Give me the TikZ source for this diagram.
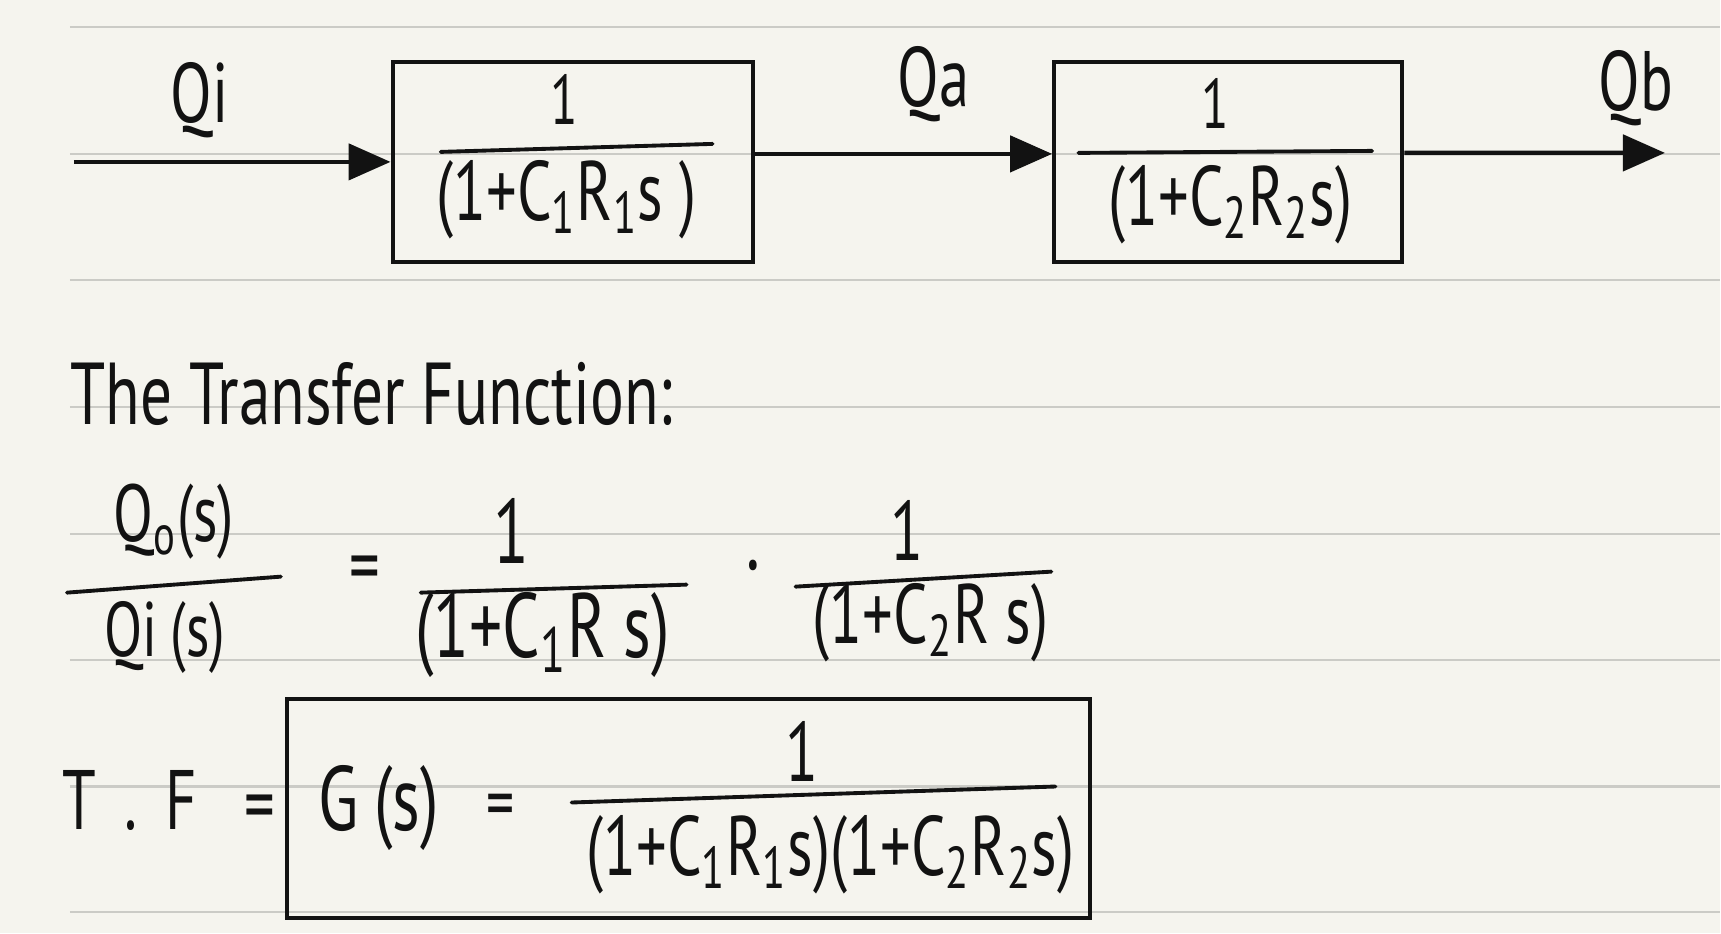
\documentclass[tikz,border=0pt]{standalone}
\usepackage{fontspec}
\setmainfont[FakeStretch=0.72]{PT Sans}
\usetikzlibrary{positioning, arrows.meta}
\definecolor{paper}{HTML}{F5F4EE}
\definecolor{ruling}{HTML}{CBCBC6}
\definecolor{ink}{HTML}{121212}

\tikzset{
  hand/.style={inner sep=0pt, text=ink, font=\fontsize{#1}{#1}\selectfont},
  block/.style={draw=ink, line width=1.2pt, inner sep=0pt},
  flow/.style={draw=ink, line width=1.3pt, -{Triangle[length=4.2mm, width=3.6mm]}},
  bar/.style={draw=ink, line width=1.1pt, line cap=round},
}

\begin{document}
\begin{tikzpicture}[x=0.01cm, y=-0.01cm]
  % notebook paper
  \fill[paper] (0,0) rectangle (1721,934);
  \foreach \y in {27,154,280,407,534,660,787,913}
    \draw[ruling, line width=0.6pt] (70,\y) -- (1721,\y);

  % block diagram
  \node[block, minimum width=3.6cm, minimum height=2cm] (blockone) at (573,162) {};
  \node[block, minimum width=3.48cm, minimum height=2cm] (blocktwo) at (1229,162) {};
  \coordinate (in) at (74,162);
  \coordinate (out) at (1666,153);
  \draw[flow] (in) -- (blockone.west);
  \draw[flow] ([yshift=0.08cm]blockone.east) -- ([yshift=0.08cm]blocktwo.west);
  \draw[flow] ([yshift=0.09cm]blocktwo.east) -- (out);

  \node[hand=24] (qi) at (200,100) {Qi};
  \node[hand=24] (qa) at (934,84) {Qa};
  \node[hand=24] (qb) at (1637,88) {Qb};

  \node[hand=20] (numone) at (565,100) {1};
  \draw[bar] (441,152) -- (713,144);
  \node[hand=24] (denone) at (567,200) {(1+C\textsubscript{1}R\textsubscript{1}s )};
  \node[hand=20] (numtwo) at (1216,104) {1};
  \draw[bar] (1079,153) -- (1373,151);
  \node[hand=24] (dentwo) at (1231,205) {(1+C\textsubscript{2}R\textsubscript{2}s)};

  % transfer function
  \node[hand=25, anchor=base west] (title) at (70,425) {The Transfer Function:};

  \node[hand=23] (qo) at (174,522) {Q\textsubscript{o}(s)};
  \draw[bar] (67,593) -- (281,577);
  \node[hand=22] (qis) at (165,638) {Qi\,(s)};
  \node[hand=24] (eqone) at (365,576) {=};
  \node[hand=26] (fnumone) at (512,531) {1};
  \draw[bar] (421,593) -- (687,585);
  \node[hand=26] (fdenone) at (543,635) {(1+C\textsubscript{1}R s)};
  \node[hand=26] (dot) at (754,577) {\textperiodcentered};
  \node[hand=24] (fnumtwo) at (908,531) {1};
  \draw[bar] (796,587) -- (1052,572);
  \node[hand=24] (fdentwo) at (931,623) {(1+C\textsubscript{2}R s)};

  \node[hand=24] (tf) at (130,801) {T\,\,.\,\,F};
  \node[hand=24] (eqtwo) at (260,815) {=};
  \node[block, minimum width=8.03cm, minimum height=2.19cm] (result) at (689,809) {};
  \node[hand=26] (gs) at (379,809) {G\,(s)};
  \node[hand=22] (eqthree) at (501,812) {=};
  \node[hand=24] (rnum) at (803,752) {1};
  \draw[bar] (572,803) -- (1056,787);
  \node[hand=24] (rden) at (831,855) {(1+C\textsubscript{1}R\textsubscript{1}s)(1+C\textsubscript{2}R\textsubscript{2}s)};
\end{tikzpicture}
\end{document}
